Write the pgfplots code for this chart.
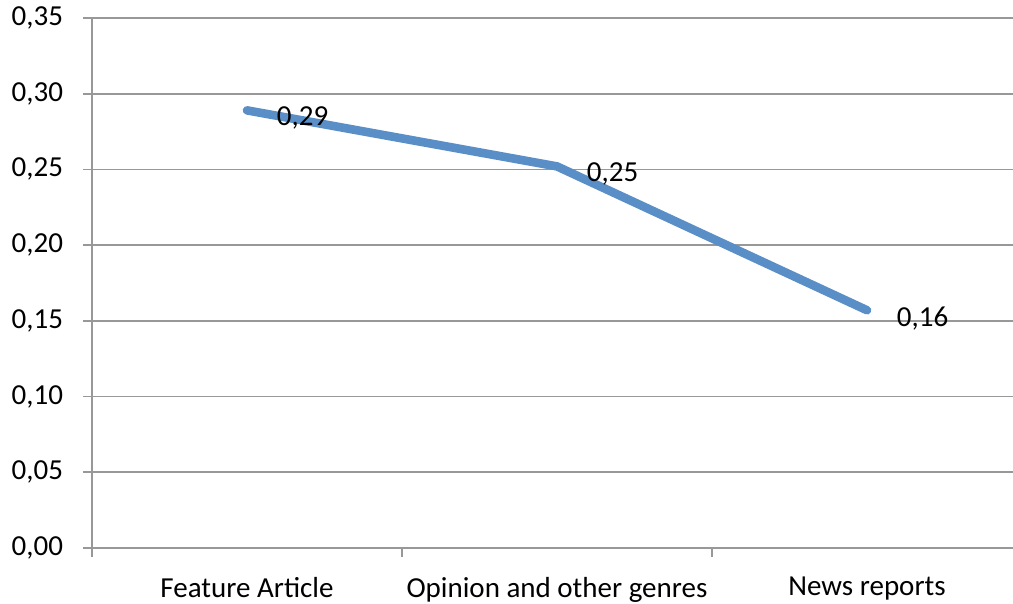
\documentclass[border=0pt]{standalone}
\usepackage{pgfplots}
\pgfplotsset{compat=1.18}
\usepackage{fontspec}
\setmainfont{Carlito}

\definecolor{lineblue}{RGB}{90,142,199}
\definecolor{gridgray}{RGB}{152,152,152}

% values
\pgfplotstableread{
x y
0 0.289
1 0.252
2 0.157
}\genres

\begin{document}
\fontsize{14.5}{17}\selectfont
\begin{tikzpicture}
\begin{axis}[
    name=ax,
    scale only axis,
    width=460.5pt, height=265pt,
    xmin=-0.5, xmax=2.471,
    ymin=0, ymax=0.35,
    axis x line*=bottom,
    axis y line*=left,
    axis line style={gridgray, line width=0.8pt},
    xtick={-0.5,0.5,1.5},
    xticklabels={},
    extra x ticks={0,1,2},
    extra x tick labels={Feature Article, Opinion and other genres, News reports},
    extra x tick style={major tick length=0pt, grid=none,
        tick label style={yshift=-9.5pt}},
    ytick={0,0.05,...,0.35},
    ymajorgrids=true,
    grid style={gridgray, line width=0.8pt},
    major tick style={gridgray, line width=0.8pt},
    tick align=outside,
    major tick length=4.5pt,
    yticklabel style={xshift=-5pt, /pgf/number format/.cd, fixed, fixed zerofill, precision=2, use comma},
    /pgf/number format/assume math mode=true,
    tick label style={font=\fontsize{14.5}{17}\selectfont, black},
    clip=false,
]
\addplot[lineblue, line width=4.3pt, line cap=round, line join=round,
    nodes near coords,
    point meta=explicit,
    nodes near coords style={black, anchor=west, xshift=8pt, yshift=-4pt,
        font=\fontsize{14.5}{17}\selectfont,
        /pgf/number format/.cd, fixed, fixed zerofill, precision=2, use comma, assume math mode=true},
] table[x=x, y=y, meta=y] {\genres};
\end{axis}
\pgfresetboundingbox
\path ([shift={(-46pt,-27.5pt)}]ax.south west) rectangle ([shift={(0pt,9pt)}]ax.north east);
\end{tikzpicture}
\end{document}
